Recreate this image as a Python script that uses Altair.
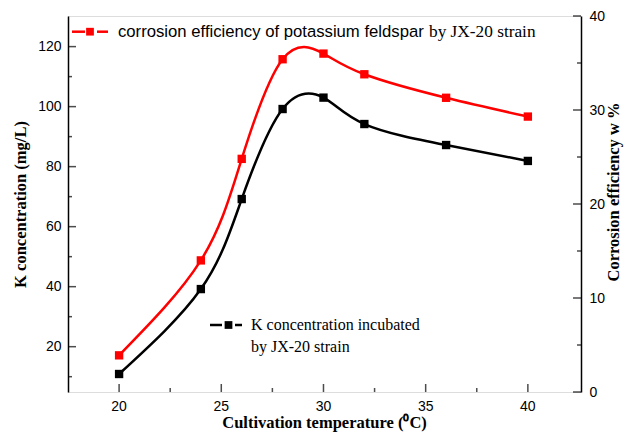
import altair as alt
import pandas as pd

# ---- data ----
temperature = [20, 24, 26, 28, 30, 32, 36, 40]
k_concentration = [10.9, 39.2, 69.2, 99.2, 103.0, 94.2, 87.2, 81.9]
corrosion_efficiency = [3.9, 14.0, 24.8, 35.4, 36.0, 33.8, 31.3, 29.3]

x_major = [20, 25, 30, 35, 40]
x_minor = [22.5, 27.5, 32.5, 37.5]
left_major = [20, 40, 60, 80, 100, 120]
left_minor = [10, 30, 50, 70, 90, 110]
right_major = [0, 10, 20, 30, 40]
right_minor = [5, 15, 25, 35]

x_domain = [17.5, 42.6]
left_domain = [4.9, 130.2]
right_domain = [0, 40]

x_title = "Cultivation temperature (⁰C)"
left_title = "K concentration (mg/L)"
right_title = "Corrosion efficiency w %"
red_label_a = "corrosion efficiency of potassium feldspar"
red_label_b = "by  JX-20 strain"
black_label_1 = "K concentration incubated"
black_label_2 = "by JX-20 strain"

# ---- layout / style ----
W, H = 513, 376
SANS = "Liberation Sans"
SERIF = "Liberation Serif"
RED = "#ff0000"
BLACK = "#000000"
CURVE = "natural"

df = pd.DataFrame({"temp": temperature, "k": k_concentration, "eff": corrosion_efficiency})
one = pd.DataFrame({"k": [0]})

xs = alt.Scale(domain=x_domain, nice=False, zero=False)
ls = alt.Scale(domain=left_domain, nice=False, zero=False)
rs = alt.Scale(domain=right_domain, nice=False, zero=False)

black = alt.Chart(df).mark_line(
    color=BLACK, strokeWidth=2.5, interpolate=CURVE,
    point=alt.OverlayMarkDef(shape="square", size=70, filled=True, color=BLACK, opacity=1),
).encode(
    x=alt.X("temp:Q", scale=xs, axis=None),
    y=alt.Y("k:Q", scale=ls, axis=alt.Axis(
        orient="left", values=left_major, title=left_title, ticks=False, tickSize=0,
        grid=False, labelPadding=7, titlePadding=9, labelFont=SANS, labelFontSize=14,
        titleFont=SERIF, titleFontSize=16.5, titleFontWeight="bold", labelColor=BLACK,
        titleColor=BLACK, domainColor=BLACK, domainWidth=1.5)),
)

red = alt.Chart(df).mark_line(
    color=RED, strokeWidth=2.5, interpolate=CURVE,
    point=alt.OverlayMarkDef(shape="square", size=70, filled=True, color=RED, opacity=1),
).encode(
    x=alt.X("temp:Q", scale=xs, axis=None),
    y=alt.Y("eff:Q", scale=rs, axis=alt.Axis(
        orient="right", values=right_major, title=None, ticks=False, tickSize=0,
        grid=False, labelPadding=8, labelFont=SANS, labelFontSize=14, labelColor=BLACK,
        domainColor=BLACK, domainWidth=1.5)),
)

def vticks(vals, size):
    return alt.Chart(pd.DataFrame({"v": vals})).mark_tick(
        orient="vertical", size=size, thickness=1.5, color=BLACK
    ).encode(x=alt.X("v:Q", scale=xs, axis=None), y=alt.value(H - size / 2))

def hticks(vals, scale, size, xpos):
    return alt.Chart(pd.DataFrame({"v": vals})).mark_tick(
        orient="horizontal", size=size, thickness=1.5, color=BLACK
    ).encode(y=alt.Y("v:Q", scale=scale, axis=None), x=alt.value(xpos))

ticks = [
    vticks(x_major, 8), vticks(x_minor, 4),
    hticks(left_major, ls, 8, 4), hticks(left_minor, ls, 4, 2),
    hticks(right_major, rs, 8, W - 4), hticks(right_minor, rs, 4, W - 2),
]

# x-axis labels (placed through the x scale)
x_labels = alt.Chart(pd.DataFrame({"v": x_major, "lab": [str(v) for v in x_major]})).mark_text(
    font=SANS, fontSize=14, baseline="middle", align="center", color=BLACK
).encode(x=alt.X("v:Q", scale=xs, axis=None), y=alt.value(H + 15), text="lab:N")

def seg(x1, x2, y, color):
    return alt.Chart(one).mark_rule(color=color, strokeWidth=2.5).encode(
        x=alt.value(x1), x2=alt.value(x2), y=alt.value(y))

def sq(x, y, color):
    return alt.Chart(one).mark_square(size=60, filled=True, color=color, opacity=1).encode(
        x=alt.value(x), y=alt.value(y))

def txt(s, x, y, font, size=16, weight="normal", angle=0, align="left", baseline="middle"):
    return alt.Chart(one).mark_text(
        text=s, font=font, fontSize=size, fontWeight=weight, angle=angle,
        align=align, baseline=baseline, color=BLACK
    ).encode(x=alt.value(x), y=alt.value(y))

legend = [
    seg(4, 17, 15.7, RED), seg(29, 40, 15.7, RED), sq(22, 15.7, RED),
    txt(red_label_a, 50, 15.7, SANS, size=16.7),
    txt(red_label_b, 361, 15.7, SERIF, size=17.3),
    seg(142, 154, 309, BLACK), seg(167, 174, 309, BLACK), sq(160.5, 309, BLACK),
    txt(black_label_1, 183, 309, SERIF),
    txt(black_label_2, 183, 331, SERIF),
    txt(right_title, 546, 176, SERIF, size=16.5, weight="bold", angle=270, align="center"),
    txt(x_title, W / 2, H + 36, SERIF, size=16.5, weight="bold", align="center",
        baseline="alphabetic"),
]

chart = alt.layer(black, red, *ticks, x_labels, *legend).resolve_scale(
    y="independent"
).properties(
    width=W, height=H,
    autosize=alt.AutoSizeParams(type="none"),
    padding={"left": 60, "top": 8, "right": 43, "bottom": 40},
).configure_view(
    stroke=BLACK, strokeWidth=1.5
).configure(background="white")

chart.save("out.html", embed_options={"renderer": "svg", "actions": False})
